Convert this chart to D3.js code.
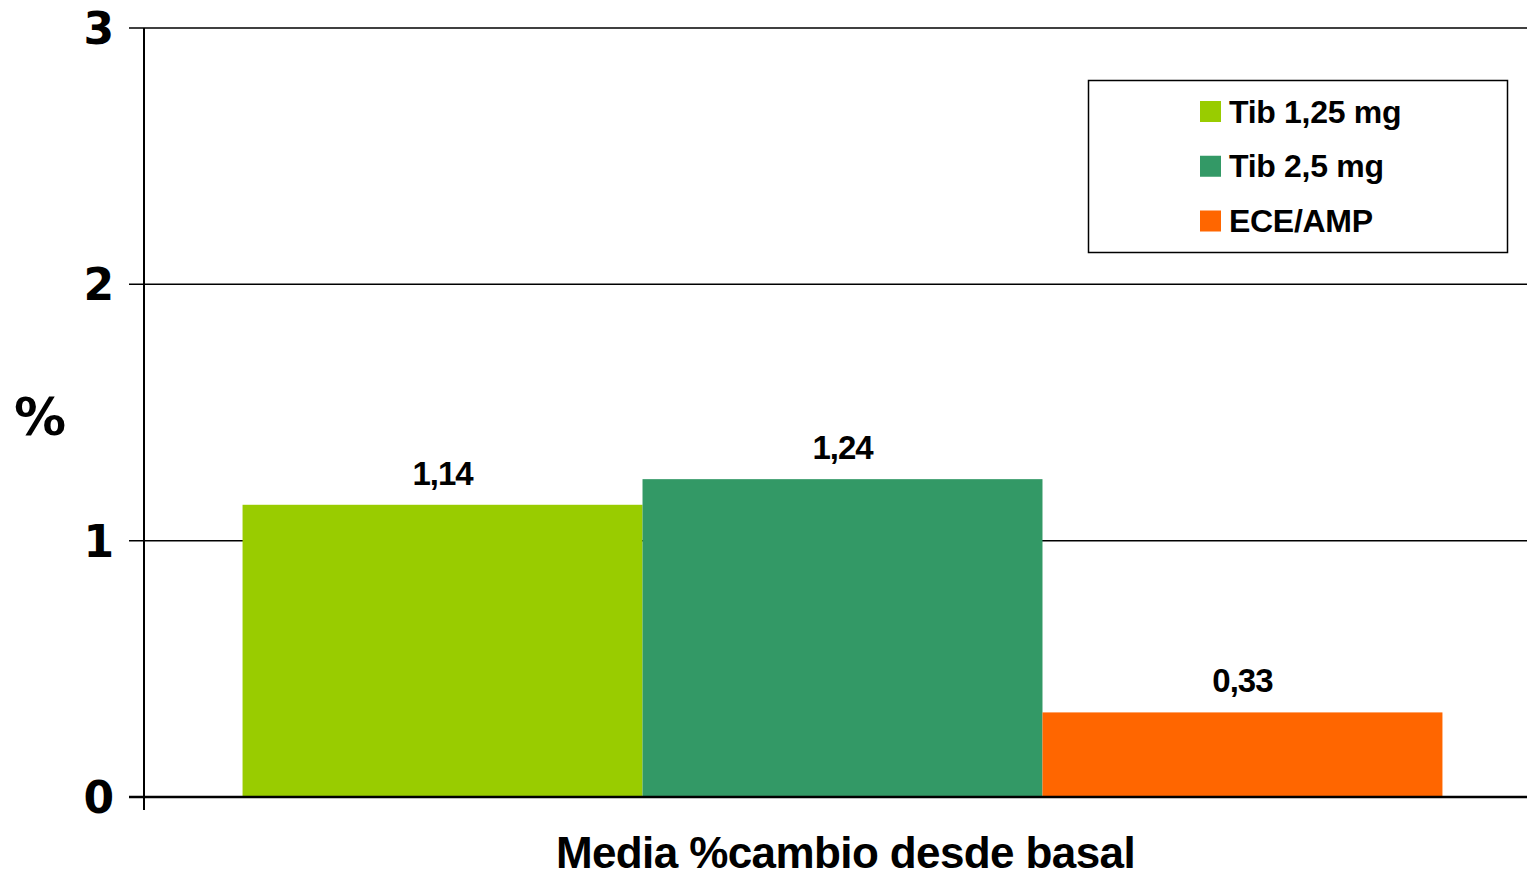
<!DOCTYPE html>
<html>
<head>
<meta charset="utf-8">
<script src="https://cdn.jsdelivr.net/npm/d3@7/dist/d3.min.js"></script>
<style>
  html, body { margin: 0; padding: 0; background: #ffffff; }
  svg { display: block; }
</style>
</head>
<body>
<svg id="chart" width="1527" height="879"></svg>
<script>
// Mean % change from baseline by treatment group
const categories = ["Media %cambio desde basal"];
const seriesNames = ["Tib 1,25 mg", "Tib 2,5 mg", "ECE/AMP"];
const seriesValues = [1.14, 1.24, 0.33];
const seriesLabels = ["1,14", "1,24", "0,33"];
const seriesColors = ["#99cc00", "#339966", "#ff6600"];
const yTicks = [0, 1, 2, 3];

const svg = d3.select("#chart");

const plotLeft = 144, plotTop = 28, plotBottom = 797;

const y = d3.scaleLinear().domain([0, 3]).range([plotBottom, plotTop]);

const x0 = d3.scaleBand().domain(categories).range([plotLeft, 1541]).padding(0.0759);
const x1 = d3.scaleBand().domain(seriesNames).range([0, x0.bandwidth()]).padding(0);

// Horizontal gridlines with tick stubs
svg.append("g")
  .selectAll("line")
  .data(yTicks.filter(d => d > 0))
  .join("line")
  .attr("x1", 129).attr("x2", 1527)
  .attr("y1", d => y(d)).attr("y2", d => y(d))
  .attr("stroke", "#000").attr("stroke-width", 1.5);

// Bars
const group = svg.append("g")
  .attr("transform", `translate(${x0(categories[0])},0)`);

group.selectAll("rect")
  .data(seriesValues)
  .join("rect")
  .attr("x", (d, i) => x1(seriesNames[i]))
  .attr("width", x1.bandwidth())
  .attr("y", d => y(d))
  .attr("height", d => y(0) - y(d))
  .attr("fill", (d, i) => seriesColors[i]);

// Value labels above bars
group.selectAll("text")
  .data(seriesValues)
  .join("text")
  .attr("x", (d, i) => x1(seriesNames[i]) + x1.bandwidth() / 2)
  .attr("y", d => y(d) - 20)
  .attr("text-anchor", "middle")
  .attr("font-family", "'Liberation Sans', Arial, sans-serif")
  .attr("font-weight", "bold")
  .attr("font-size", 33)
  .attr("letter-spacing", -1)
  .text((d, i) => seriesLabels[i]);

// Zero baseline and vertical axis
svg.append("line")
  .attr("x1", 129).attr("x2", 1527)
  .attr("y1", y(0)).attr("y2", y(0))
  .attr("stroke", "#000").attr("stroke-width", 2.5);

svg.append("line")
  .attr("x1", plotLeft).attr("x2", plotLeft)
  .attr("y1", plotTop).attr("y2", 810)
  .attr("stroke", "#000").attr("stroke-width", 2);

// Y tick labels
svg.append("g")
  .selectAll("text")
  .data(yTicks)
  .join("text")
  .attr("x", 114)
  .attr("y", d => y(d) + 16)
  .attr("text-anchor", "end")
  .attr("font-family", "'DejaVu Sans', Verdana, sans-serif")
  .attr("font-weight", "bold")
  .attr("font-size", 44)
  .text(d => d);

// Y axis title
svg.append("text")
  .attr("x", 40)
  .attr("y", 435)
  .attr("text-anchor", "middle")
  .attr("font-family", "'DejaVu Sans', Verdana, sans-serif")
  .attr("font-weight", "bold")
  .attr("font-size", 52)
  .text("%");

// X axis category title
svg.append("text")
  .attr("x", x0(categories[0]) + x0.bandwidth() / 2 + 3)
  .attr("y", 868)
  .attr("text-anchor", "middle")
  .attr("font-family", "'Liberation Sans', Arial, sans-serif")
  .attr("font-weight", "bold")
  .attr("font-size", 44)
  .attr("letter-spacing", -0.6)
  .text(categories[0]);

// Legend
const legend = svg.append("g");
legend.append("rect")
  .attr("x", 1088.5).attr("y", 80.5)
  .attr("width", 419).attr("height", 172)
  .attr("fill", "#fff").attr("stroke", "#000").attr("stroke-width", 1.5);

const legendRowY = d3.scalePoint().domain(seriesNames).range([111.5, 221]);

const items = legend.selectAll("g.item")
  .data(seriesNames)
  .join("g")
  .attr("class", "item")
  .attr("transform", d => `translate(0,${legendRowY(d)})`);

items.append("rect")
  .attr("x", 1200).attr("y", -10.5)
  .attr("width", 21).attr("height", 21)
  .attr("fill", (d, i) => seriesColors[i]);

items.append("text")
  .attr("x", 1229)
  .attr("y", 11)
  .attr("font-family", "'Liberation Sans', Arial, sans-serif")
  .attr("font-weight", "bold")
  .attr("font-size", 32)
  .attr("letter-spacing", -0.3)
  .text(d => d);
</script>
</body>
</html>
